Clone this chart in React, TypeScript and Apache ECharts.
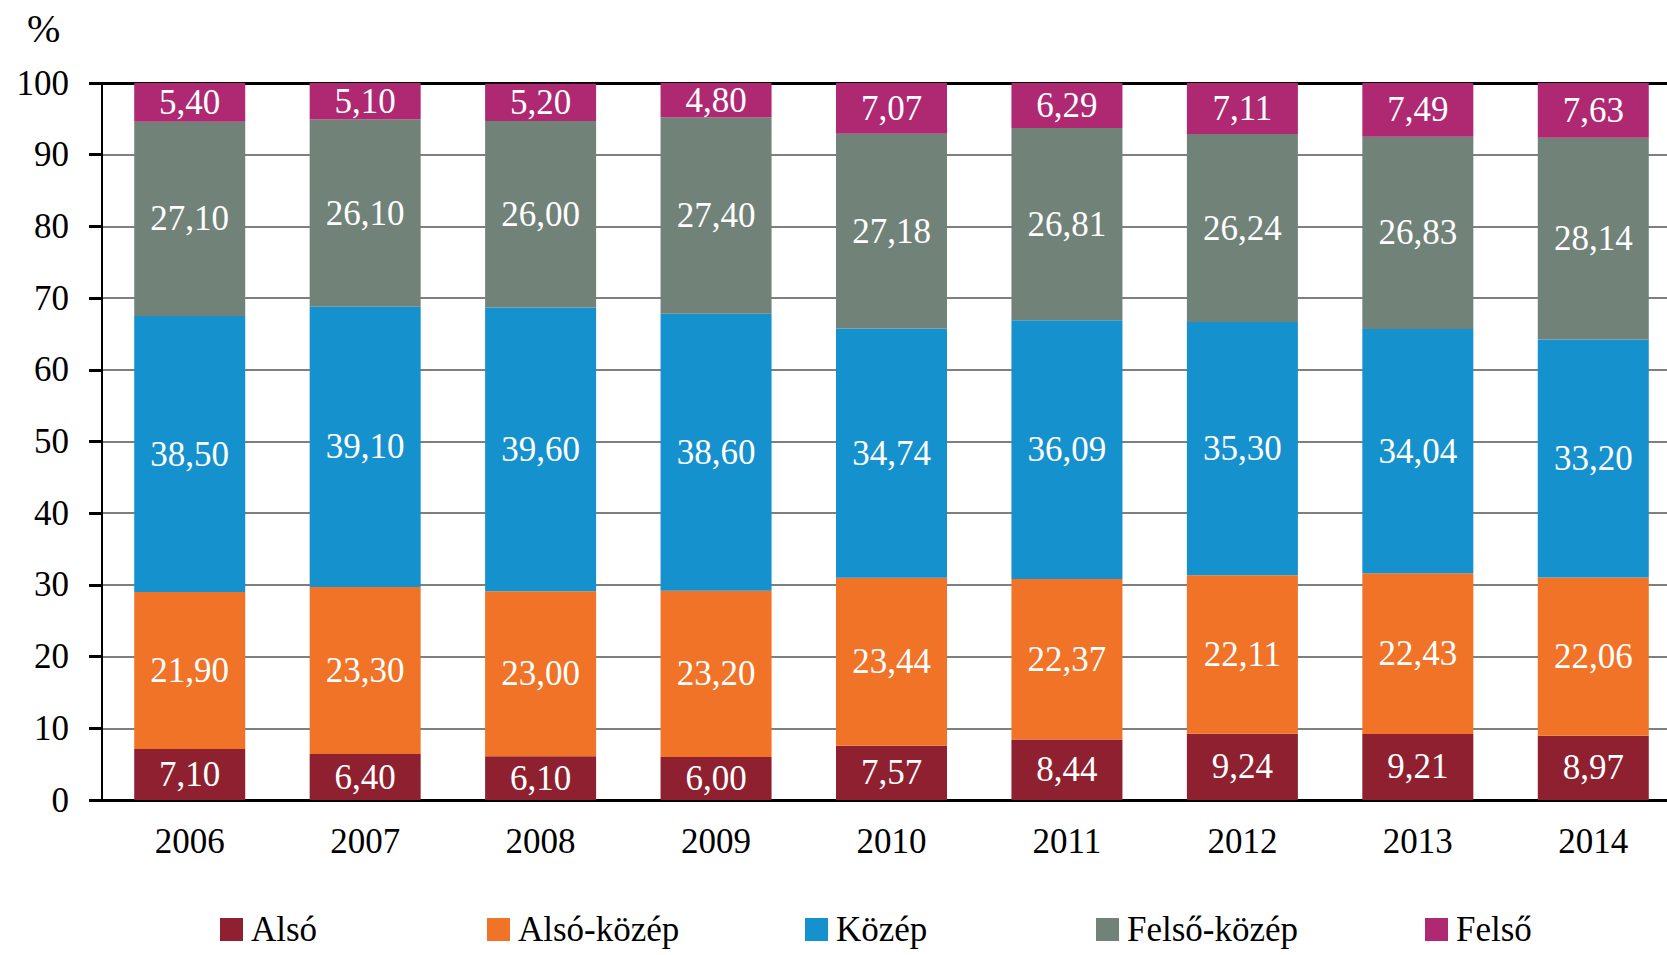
import React, { useEffect, useRef } from "react";
import * as echarts from "echarts";

const years = ["2006", "2007", "2008", "2009", "2010", "2011", "2012", "2013", "2014"];
const seriesNames = ["Alsó", "Alsó-közép", "Közép", "Felső-közép", "Felső"];
const also = [7.1, 6.4, 6.1, 6.0, 7.57, 8.44, 9.24, 9.21, 8.97];
const alsoKozep = [21.9, 23.3, 23.0, 23.2, 23.44, 22.37, 22.11, 22.43, 22.06];
const kozep = [38.5, 39.1, 39.6, 38.6, 34.74, 36.09, 35.3, 34.04, 33.2];
const felsoKozep = [27.1, 26.1, 26.0, 27.4, 27.18, 26.81, 26.24, 26.83, 28.14];
const felso = [5.4, 5.1, 5.2, 4.8, 7.07, 6.29, 7.11, 7.49, 7.63];
const colors = ["#8E2030", "#F07327", "#1591CE", "#718379", "#AE2872"];
const legendLeft = [220, 487, 805, 1096, 1425];

const FONT = "'Liberation Serif', 'DejaVu Serif', serif";

export default function App() {
  const ref = useRef<HTMLDivElement>(null);
  useEffect(() => {
    if (!ref.current) return;
    const chart = echarts.init(ref.current, null, { renderer: "svg" });
    const values = [also, alsoKozep, kozep, felsoKozep, felso];
    const fmt = (p: any) => Number(p.value).toFixed(2).replace(".", ",");
    chart.setOption({
      animation: false,
      backgroundColor: "#ffffff",
      textStyle: { fontFamily: FONT },
      grid: { left: 102, top: 83, width: 1579, height: 717, containLabel: false },
      xAxis: [
        {
          type: "category",
          data: years,
          axisLine: { show: true, lineStyle: { color: "#000", width: 3 } },
          axisTick: { show: false },
          axisLabel: { color: "#000", fontSize: 35, fontFamily: FONT, margin: 24 },
        },
        {
          type: "category",
          data: years,
          position: "top",
          axisLine: { show: true, lineStyle: { color: "#000", width: 3 } },
          axisTick: { show: false },
          axisLabel: { show: false },
        },
      ],
      yAxis: {
        type: "value",
        min: 0,
        max: 100,
        interval: 10,
        axisLine: { show: true, lineStyle: { color: "#000", width: 2 } },
        axisTick: { show: true, length: 13, lineStyle: { color: "#000", width: 3 } },
        axisLabel: { color: "#000", fontSize: 35, fontFamily: FONT, margin: 33 },
        splitLine: { show: true, lineStyle: { color: "#7f7f7f", width: 2 } },
      },
      legend: seriesNames.map((n, i) => ({
        data: [n],
        left: legendLeft[i],
        top: 912,
        padding: 0,
        itemWidth: 23,
        itemHeight: 23,
        icon: "rect",
        textStyle: { color: "#000", fontSize: 35, fontFamily: FONT, padding: [0, 0, 0, 3] },
      })),
      graphic: [
        {
          type: "text",
          left: 27,
          top: 8,
          style: { text: "%", fontSize: 40, fontFamily: FONT, fill: "#000" },
        },
      ],
      series: seriesNames.map((n, i) => ({
        name: n,
        type: "bar",
        stack: "total",
        barWidth: 111,
        itemStyle: { color: colors[i] },
        label: {
          show: true,
          position: "inside",
          color: "#fff",
          fontSize: 35,
          fontFamily: FONT,
          formatter: fmt,
        },
        data: values[i],
      })),
    });
    return () => chart.dispose();
  }, []);
  return (
    <div
      style={{
        position: "fixed",
        left: 0,
        top: 0,
        width: 1667,
        height: 955,
        overflow: "hidden",
        background: "#fff",
      }}
    >
      <div ref={ref} style={{ width: 1700, height: 955 }} />
    </div>
  );
}
